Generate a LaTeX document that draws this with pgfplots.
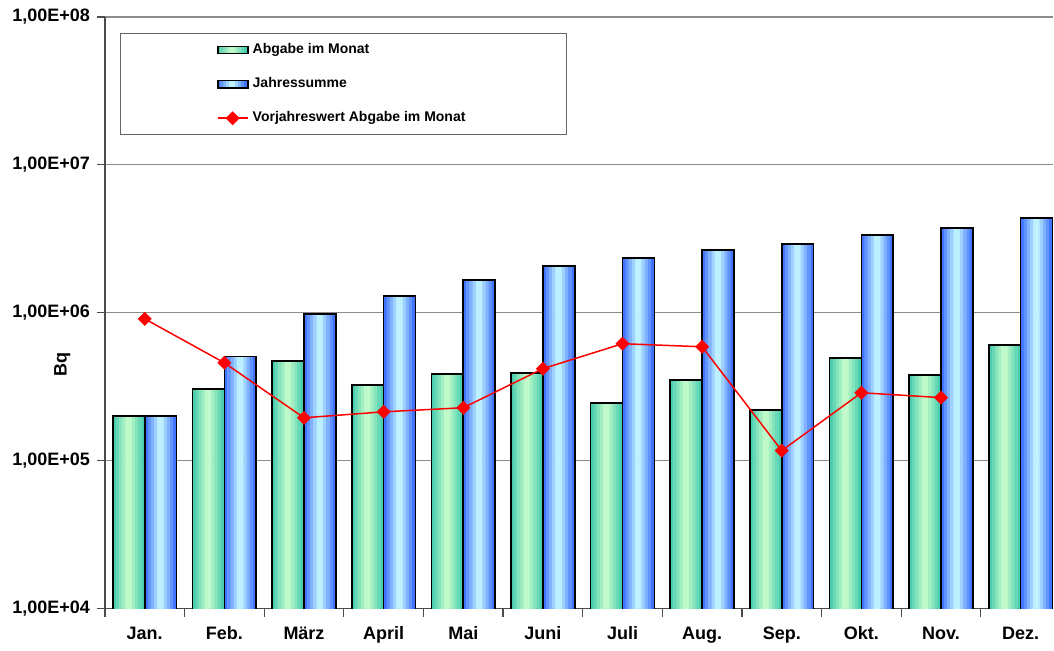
\documentclass[border=0pt]{standalone}
\usepackage{pgfplots}
\pgfplotsset{compat=1.18}
\usepackage{pgfplotstable}
\usepackage{fontspec}
\setmainfont{Liberation Sans}
\usetikzlibrary{calc}

\definecolor{tealdark}{HTML}{3CC8AC}
\definecolor{mintlight}{HTML}{CCFFCC}
\definecolor{bluedark}{HTML}{3366FF}
\definecolor{cyanlight}{HTML}{CCFFFF}

% horizontal gradient as 10 strips per bar
\foreach \k in {0,...,9}{
  \pgfmathsetmacro\t{(\k+0.5)/10}
  \pgfmathsetmacro\p{\t<0.5 ? 100*\t/0.5 : 100*(1-\t)/0.5}
  \xglobal\colorlet{gcol\k}{mintlight!\p!tealdark}
  \xglobal\colorlet{bcol\k}{cyanlight!\p!bluedark}
}

\pgfplotsset{
    barlegG/.style={legend image code/.code={%
        \foreach \k in {0,...,9}{\fill[gcol\k] (\k*1.5pt,-1.8pt) rectangle ({(\k+1)*1.5pt+0.1pt},1.8pt);}
        \draw[black,line width=0.8pt] (0pt,-1.8pt) rectangle (15pt,1.8pt);}},
    barlegB/.style={legend image code/.code={%
        \foreach \k in {0,...,9}{\fill[bcol\k] (\k*1.5pt,-1.8pt) rectangle ({(\k+1)*1.5pt+0.1pt},1.8pt);}
        \draw[black,line width=0.8pt] (0pt,-1.8pt) rectangle (15pt,1.8pt);}},
    lineleg/.style={legend image code/.code={\draw[##1, mark repeat=2, mark phase=2] plot coordinates {(0pt,0pt) (7.5pt,0pt) (15pt,0pt)};}},
}

\pgfplotstableread{
m v
0 2.01e5
1 3.06e5
2 4.74e5
3 3.26e5
4 3.87e5
5 3.93e5
6 2.46e5
7 3.52e5
8 2.21e5
9 4.96e5
10 3.81e5
11 6.08e5
}\abgabe

\pgfplotstableread{
m v
0 2.01e5
1 5.05e5
2 9.85e5
3 1.30e6
4 1.67e6
5 2.08e6
6 2.35e6
7 2.67e6
8 2.93e6
9 3.37e6
10 3.75e6
11 4.38e6
}\summe

\pgfplotstableread{
m v
0 9.1e5
1 4.59e5
2 1.95e5
3 2.14e5
4 2.28e5
5 4.19e5
6 6.18e5
7 5.89e5
8 1.17e5
9 2.88e5
10 2.67e5
}\vorjahr

\begin{document}
\begin{tikzpicture}
\begin{axis}[
    scale only axis,
    width=474.5pt, height=296pt,
    ymode=log,
    ymin=1e4, ymax=1e8,
    xmin=-0.5, xmax=11.41,
    ytick={1e4,1e5,1e6,1e7,1e8},
    yticklabels={{1,00E+04},{1,00E+05},{1,00E+06},{1,00E+07},{1,00E+08}},
    xtick={0,...,11},
    xticklabels={Jan.,Feb.,März,April,Mai,Juni,Juli,Aug.,Sep.,Okt.,Nov.,Dez.},
    minor xtick={-0.5,0.5,...,10.5},
    major x tick style={draw=none},
    minor x tick style={draw=gray!60!black, line width=0.6pt},
    minor y tick style={draw=none},
    major y tick style={draw=gray!60!black, line width=0.6pt},
    tick align=outside,
    major tick length=4pt, minor tick length=4pt,
    axis lines*=left,
    axis line style={draw=gray!60!black, line width=0.7pt, -},
    ymajorgrids,
    major grid style={draw=gray!90, line width=0.6pt},
    ticklabel style={font=\bfseries\fontsize{9}{10}\selectfont},
    /pgf/number format/assume math mode=true,
    xticklabel style={yshift=-1.5pt},
    ylabel={Bq},
    ylabel style={font=\bfseries\fontsize{9}{10}\selectfont, at={(axis description cs:-0.045,0.412)}, anchor=center, rotate=0},
    legend style={at={(0.0158,0.973)}, anchor=north west, draw=gray!80!black, line width=0.5pt,
        font=\bfseries\fontsize{7}{8}\selectfont, inner xsep=48.3pt, inner ysep=3pt, row sep=6.5pt,
        cells={anchor=west}},
    legend cell align=left,
]
% gradient strips, monthly values
\pgfplotsinvokeforeach{0,...,9}{
  \addplot[ybar, bar width=0.044, bar shift={-0.38+0.04*#1}, draw=none, fill=gcol#1, forget plot]
    table[x=m, y=v] {\abgabe};
}
% gradient strips, annual sum
\pgfplotsinvokeforeach{0,...,9}{
  \addplot[ybar, bar width=0.044, bar shift={0.02+0.04*#1}, draw=none, fill=bcol#1, forget plot]
    table[x=m, y=v] {\summe};
}
\addplot[ybar, bar width=0.4, bar shift=-0.2, draw=black, line width=0.8pt, fill=none, barlegG]
    table[x=m, y=v] {\abgabe};
\addlegendentry{Abgabe im Monat}
\addplot[ybar, bar width=0.4, bar shift=0.2, draw=black, line width=0.8pt, fill=none, barlegB]
    table[x=m, y=v] {\summe};
\addlegendentry{Jahressumme}
\addplot[red, line width=0.75pt, mark=square*, mark size=2.1pt,
    mark options={rotate=45, fill=red, draw=red}, lineleg]
    table[x=m, y=v] {\vorjahr};
\addlegendentry{Vorjahreswert Abgabe im Monat}
\end{axis}
\path[use as bounding box] ($(current axis.south west)+(-52.5pt,-16pt)$) rectangle ($(current axis.north east)+(0pt,8.5pt)$);
\end{tikzpicture}
\end{document}
